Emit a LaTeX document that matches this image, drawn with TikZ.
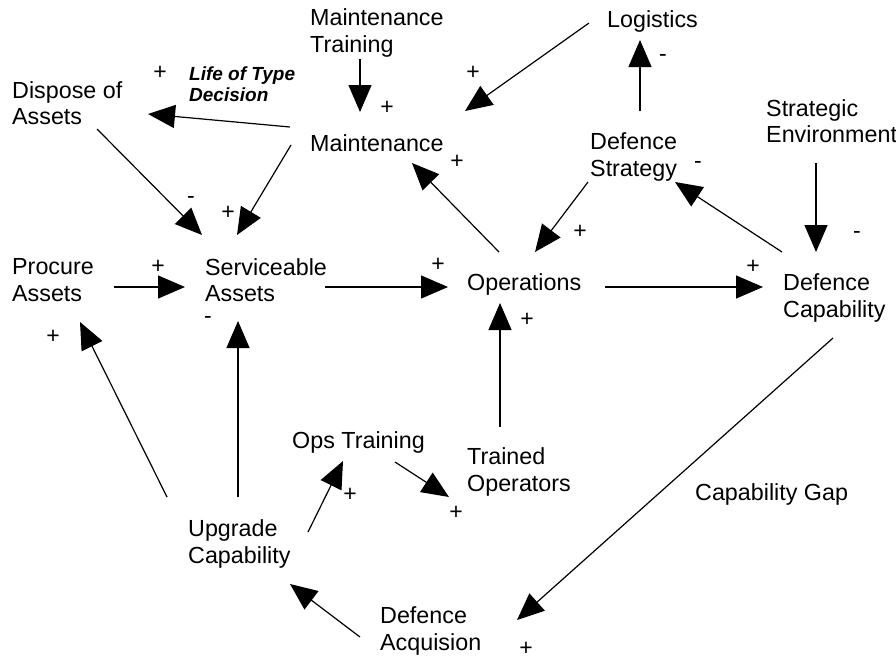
\documentclass[tikz,border=0pt]{standalone}
\usepackage{fontspec}
\setmainfont{Liberation Sans}
\usetikzlibrary{arrows.meta}
\tikzset{
  factor/.style={anchor=west,align=left,inner sep=0pt,
    font=\fontsize{23.3}{26.5}\selectfont},
  decision/.style={anchor=west,align=left,inner sep=0pt,
    font=\fontsize{19}{21}\selectfont\bfseries\itshape},
  polarity/.style={inner sep=0pt,font=\fontsize{23}{23}\selectfont},
  link/.style={-{Triangle[length=27pt,width=23pt]},line width=1.2pt}
}

\begin{document}
\begin{tikzpicture}[x=1pt,y=-1pt]
  \useasboundingbox[fill=white] (0,0) rectangle (896,661);
  % factors
  \node[factor] (mtrain) at (310,33) {Maintenance\\Training};
  \node[factor] (logistics) at (607,21) {Logistics};
  \node[factor] (dispose) at (12,103) {Dispose of\\Assets};
  \node[decision] (lifetype) at (189,84) {Life of Type\\Decision};
  \node[factor] (maint) at (310,143) {Maintenance};
  \node[factor] (dstrat) at (590,157) {Defence\\Strategy};
  \node[factor] (strenv) at (766,121) {Strategic\\Environment};
  \node[factor] (procure) at (12,280) {Procure\\Assets};
  \node[factor] (service) at (205,280) {Serviceable\\Assets};
  \node[factor] (ops) at (467,284) {Operations};
  \node[factor] (dcap) at (783,298) {Defence\\Capability};
  \node[factor] (opstrain) at (292,442) {Ops Training};
  \node[factor] (trained) at (467,472) {Trained\\Operators};
  \node[factor] (capgap) at (695,494) {Capability Gap};
  \node[factor] (upgrade) at (188,544) {Upgrade\\Capability};
  \node[factor] (dacq) at (380,631) {Defence\\Acquision};
  % links
  \draw[link] ([shift={(50,26)}]mtrain.west) -- ([shift={(50,-31)}]maint.west);
  \draw[link] ([shift={(-18,2)}]logistics.west) -- ([shift={(155,-32)}]maint.west);
  \draw[link] ([shift={(50,-46)}]dstrat.west) -- ([shift={(33,19)}]logistics.west);
  \draw[link] ([shift={(-20,-16)}]maint.west) -- ([shift={(136,11)}]dispose.west);
  \draw[link] ([shift={(85,26)}]dispose.west) -- ([shift={(-3,-45)}]service.west);
  \draw[link] ([shift={(-19,2)}]maint.west) -- ([shift={(32,-45)}]service.west);
  \draw[link] ([shift={(32,-32)}]ops.west) -- ([shift={(102,20)}]maint.west);
  \draw[link] ([shift={(-2,25)}]dstrat.west) -- ([shift={(68,-32)}]ops.west);
  \draw[link] ([shift={(-1,-46)}]dcap.west) -- ([shift={(85,25)}]dstrat.west);
  \draw[link] ([shift={(50,42)}]strenv.west) -- ([shift={(33,-46)}]dcap.west);
  \draw[link] ([shift={(102,7)}]procure.west) -- ([shift={(-20,7)}]service.west);
  \draw[link] ([shift={(120,7)}]service.west) -- ([shift={(-19,3)}]ops.west);
  \draw[link] ([shift={(138,3)}]ops.west) -- ([shift={(-20,-11)}]dcap.west);
  \draw[link] ([shift={(33,-45)}]trained.west) -- ([shift={(33,19)}]ops.west);
  \draw[link] ([shift={(50,40)}]dcap.west) -- ([shift={(137,-11)}]dacq.west);
  \draw[link] ([shift={(-20,6)}]dacq.west) -- ([shift={(102,40)}]upgrade.west);
  \draw[link] ([shift={(120,-12)}]upgrade.west) -- ([shift={(51,19)}]opstrain.west);
  \draw[link] ([shift={(103,20)}]opstrain.west) -- ([shift={(-18,25)}]trained.west);
  \draw[link] ([shift={(50,-47)}]upgrade.west) -- ([shift={(33,41)}]service.west);
  \draw[link] ([shift={(-21,-47)}]upgrade.west) -- ([shift={(68,42)}]procure.west);
  % polarities
  \node[polarity] (pdispose) at (160,73) {+};
  \node[polarity] (pmtrain) at (387,108) {+};
  \node[polarity] (plogistics) at (473,73) {+};
  \node[polarity] (pdstrat) at (663,58) {-};
  \node[polarity] (pdcap) at (698,165) {-};
  \node[polarity] (pops) at (457,162) {+};
  \node[polarity] (pdisp) at (191,200) {-};
  \node[polarity] (pmaint) at (228,213) {+};
  \node[polarity] (pprocure) at (158,267) {+};
  \node[polarity] (pservice) at (438,265) {+};
  \node[polarity] (pupgserv) at (208,320) {-};
  \node[polarity] (pupgproc) at (53,337) {+};
  \node[polarity] (pdstratops) at (580,232) {+};
  \node[polarity] (pstrenv) at (857,235) {-};
  \node[polarity] (popsdcap) at (753,267) {+};
  \node[polarity] (ptrained) at (527,320) {+};
  \node[polarity] (pupgops) at (350,495) {+};
  \node[polarity] (popstrain) at (456,513) {+};
  \node[polarity] (pdacq) at (526,649) {+};
\end{tikzpicture}
\end{document}
